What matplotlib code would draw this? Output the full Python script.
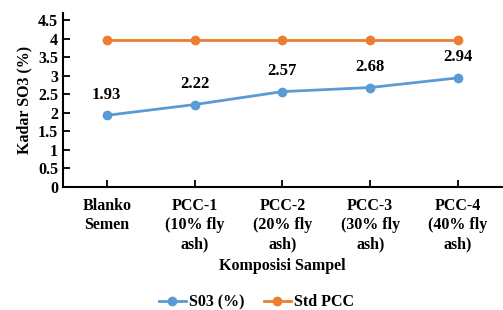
import matplotlib
matplotlib.use("Agg")
import matplotlib.pyplot as plt

categories = ["Blanko\nSemen", "PCC-1\n(10% fly\nash)", "PCC-2\n(20% fly\nash)",
              "PCC-3\n(30% fly\nash)", "PCC-4\n(40% fly\nash)"]
so3 = [1.93, 2.22, 2.57, 2.68, 2.94]
std_pcc = [3.95, 3.95, 3.95, 3.95, 3.95]
yticks = [0, 0.5, 1, 1.5, 2, 2.5, 3, 3.5, 4, 4.5]
ytick_labels = ["0", "0.5", "1", "1.5", "2", "2.5", "3", "3.5", "4", "4.5"]

plt.rcParams['font.family'] = ['Liberation Serif', 'DejaVu Serif']
plt.rcParams['font.weight'] = 'bold'

fig = plt.figure(figsize=(5.03, 3.10), dpi=100)
ax = fig.add_axes([0.125, 0.397, 0.873, 0.56])

x = list(range(len(categories)))
ax.plot(x, so3, color='#5B9BD5', lw=2, marker='o', ms=6, label='S03 (%)')
ax.plot(x, std_pcc, color='#ED7D31', lw=2, marker='o', ms=6, label='Std PCC')

for xi, v in zip(x, so3):
    ax.annotate(f"{v:.2f}", (xi, v), xytext=(0, 9), textcoords='offset points',
                ha='center', va='bottom', fontsize=12, fontweight='bold')

ax.set_xlim(-0.5, 4.5)
ax.set_ylim(0, 4.68)
ax.set_yticks(yticks)
ax.set_yticklabels(ytick_labels)
ax.set_xticks(x)
ax.set_xticklabels(categories, linespacing=1.25)
ax.tick_params(axis='both', direction='in', labelsize=11.5, width=1.3, length=5)
ax.tick_params(axis='x', pad=8)
for s in ['top', 'right']:
    ax.spines[s].set_visible(False)
for s in ['left', 'bottom']:
    ax.spines[s].set_linewidth(1.5)

ax.set_ylabel("Kadar SO3 (%)", fontsize=11.5, fontweight='bold')
ax.set_xlabel("Komposisi Sampel", fontsize=11.5, fontweight='bold', labelpad=4)

fig.legend(loc='center', bbox_to_anchor=(0.51, 0.025), ncol=2, frameon=False,
           fontsize=11.5, handlelength=1.7, columnspacing=1.2, handletextpad=0.2)

fig.savefig("out.png", dpi=100)
